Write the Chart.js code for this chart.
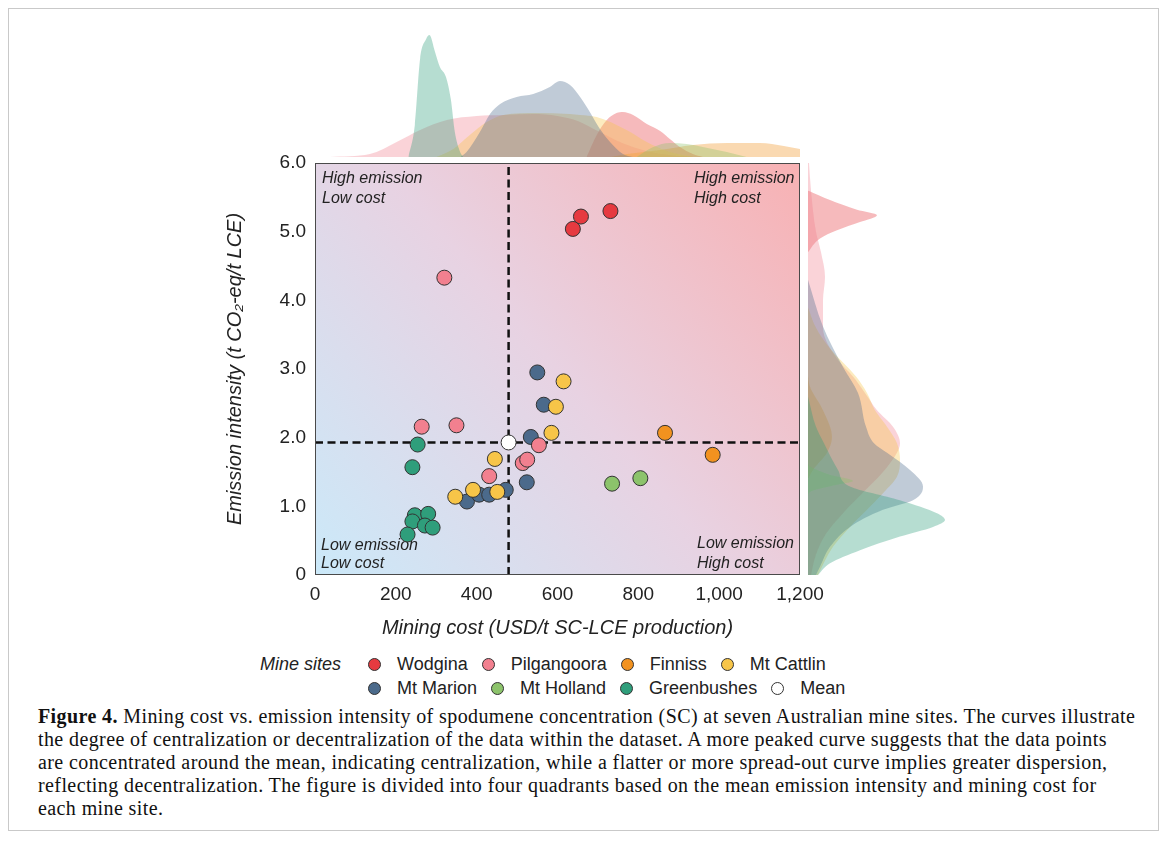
<!DOCTYPE html>
<html>
<head>
<meta charset="utf-8">
<script src="https://cdn.jsdelivr.net/npm/chart.js@4.4.1/dist/chart.umd.min.js"></script>
<style>
    html, body { margin: 0; padding: 0; background: #fff; }
    body { width: 1168px; height: 855px; position: relative; overflow: hidden; font-family: 'Liberation Sans', Arial, sans-serif; color: #222; }
    .frame { position: absolute; left: 8px; top: 8px; width: 1151px; height: 823px; border: 1px solid #c9c9c9; box-sizing: border-box; }
    #mainChart { position: absolute; left: 180px; top: 150px; }
    #topChart { position: absolute; left: 315px; top: 20px; }
    #rightChart { position: absolute; left: 808px; top: 163px; }
    .legend { position: absolute; left: 260px; top: 653px; font-size: 18px; line-height: 23px; white-space: nowrap; }
    .legend .title { position: absolute; left: 0; top: 0; font-style: italic; }
    .legend .row { position: absolute; left: 108px; display: flex; align-items: center; white-space: nowrap; }
    .legend .item { display: flex; align-items: center; margin-right: 14px; }
    .legend .dot { width: 13px; height: 13px; border-radius: 50%; border: 1px solid #333; margin-right: 16px; box-sizing: border-box; }
    .caption { position: absolute; left: 38px; top: 705px; font-family: 'Liberation Serif', 'DejaVu Serif', serif; font-size: 20px; letter-spacing: 0.4px; line-height: 23px; color: #111; white-space: nowrap; }
</style>
</head>
<body>
<div class="frame"></div>
<canvas id="topChart" width="485" height="137"></canvas>
<canvas id="rightChart" width="160" height="412"></canvas>
<canvas id="mainChart" width="660" height="500"></canvas>
<div class="legend" id="legend"><span class="title">Mine sites</span></div>
<div class="caption">
    <div><b>Figure 4.</b> Mining cost vs. emission intensity of spodumene concentration (SC) at seven Australian mine sites. The curves illustrate</div>
    <div>the degree of centralization or decentralization of the data within the dataset. A more peaked curve suggests that the data points</div>
    <div>are concentrated around the mean, indicating centralization, while a flatter or more spread-out curve implies greater dispersion,</div>
    <div>reflecting decentralization. The figure is divided into four quadrants based on the mean emission intensity and mining cost for</div>
    <div>each mine site.</div>
</div>
<script>
/* ---- data: [mining cost (USD/t SC-LCE), emission intensity (t CO2-eq/t LCE)] ---- */
const siteNames = ['Wodgina', 'Pilgangoora', 'Finniss', 'Mt Cattlin', 'Mt Marion', 'Mt Holland', 'Greenbushes'];
const siteColors = ['#e63a40', '#f2808f', '#f2921f', '#f7c548', '#4b6a8b', '#8cc36b', '#2f9e7b'];

const wodgina = [[638, 5.04], [658, 5.22], [731, 5.30]];
const pilgangoora = [[320, 4.33], [264, 2.16], [350, 2.18], [431, 1.44], [514, 1.63], [525, 1.68], [554, 1.89]];
const finniss = [[866, 2.07], [984, 1.75]];
const mtCattlin = [[615, 2.82], [596, 2.45], [585, 2.07], [445, 1.69], [347, 1.14], [391, 1.24], [451, 1.21]];
const mtMarion = [[550, 2.95], [566, 2.48], [534, 2.01], [524, 1.35], [376, 1.07], [406, 1.17], [431, 1.17], [472, 1.24]];
const mtHolland = [[735, 1.33], [805, 1.41]];
const greenbushes = [[254, 1.90], [241, 1.57], [247, 0.87], [241, 0.78], [280, 0.89], [272, 0.72], [291, 0.69], [229, 0.59]];
const meanCost = 479;
const meanEmission = 1.93;

const costTicks = [0, 200, 400, 600, 800, 1000, 1200];
const emissionTicks = [0, 1, 2, 3, 4, 5, 6];

/* marginal curves: [cost, density] (top) and [emission, density] (right) */
const topWodgina = [[672, 0], [697, 22], [722, 37], [746, 44], [762, 45], [787, 42], [821, 33], [854, 26], [878, 18], [903, 10], [935, 3], [960, 0]];
const topPilgangoora = [[37, 0], [136, 3], [202, 15], [260, 27], [326, 37], [400, 41], [466, 42], [540, 43], [600, 41], [650, 36], [700, 26], [760, 14], [820, 6], [880, 2], [940, 0]];
const topFinniss = [[730, 0], [771, 3], [854, 7], [935, 12], [1019, 14], [1101, 14], [1160, 11], [1200, 8], [1240, 5]];
const topMtCattlin = [[300, 0], [342, 8], [383, 22], [425, 35], [466, 42], [549, 44], [631, 43], [656, 42], [697, 40], [771, 27], [821, 15], [878, 5], [935, 0]];
const topMtMarion = [[360, 0], [375, 5], [408, 25], [433, 43], [458, 53], [499, 60], [540, 63], [581, 70], [606, 76], [631, 72], [656, 60], [680, 45], [705, 28], [730, 15], [762, 3], [787, 0]];
const topMtHolland = [[796, 0], [837, 10], [878, 14], [920, 13], [960, 10], [1019, 5], [1068, 0]];
const topGreenbushes = [[231, 0], [247, 32], [260, 98], [275, 118], [283, 122], [297, 105], [309, 90], [324, 80], [336, 58], [346, 25], [359, 5], [367, 0]];

const rightWodgina = [[4.70, 0], [4.90, 12], [5.02, 29], [5.14, 52], [5.24, 69], [5.32, 49], [5.46, 22], [5.60, 0]];
const rightPilgangoora = [[0, 3], [0.3, 8], [0.6, 18], [0.9, 35], [1.2, 55], [1.5, 75], [1.78, 89], [1.92, 92], [2.16, 85], [2.40, 69], [2.65, 57], [2.89, 45], [3.13, 30], [3.6, 15], [4.0, 15], [4.34, 17], [4.7, 13], [5.0, 8], [5.6, 3], [6.0, 1]];
const rightFinniss = [[1.40, 0], [1.53, 5], [1.78, 19], [2.01, 24], [2.40, 15], [2.74, 2], [2.90, 0]];
const rightMtCattlin = [[0, 10], [0.41, 25], [0.70, 42], [0.95, 59], [1.19, 75], [1.43, 89], [1.67, 92], [1.92, 89], [2.16, 79], [2.40, 67], [2.65, 59], [2.89, 48], [3.3, 22], [3.6, 8], [3.9, 0]];
const rightMtMarion = [[0, 8], [0.12, 12], [0.41, 22], [0.70, 42], [0.95, 75], [1.09, 105], [1.29, 115], [1.53, 102], [1.78, 79], [1.92, 66], [2.16, 58], [2.65, 50], [3.03, 35], [3.62, 15], [4.3, 0]];
const rightMtHolland = [[1.15, 0], [1.21, 2], [1.31, 28], [1.37, 45], [1.46, 22], [1.58, 2], [1.62, 0]];
const rightGreenbushes = [[0, 10], [0.17, 22], [0.36, 52], [0.56, 92], [0.70, 125], [0.80, 137], [0.90, 129], [1.09, 92], [1.29, 42], [1.53, 30], [1.92, 16], [2.16, 8], [2.6, 0]];

const sitePoints = [wodgina, pilgangoora, finniss, mtCattlin, mtMarion, mtHolland, greenbushes];
const topCurves = [topWodgina, topPilgangoora, topFinniss, topMtCattlin, topMtMarion, topMtHolland, topGreenbushes];
const rightCurves = [rightWodgina, rightPilgangoora, rightFinniss, rightMtCattlin, rightMtMarion, rightMtHolland, rightGreenbushes];

const FONT = "'Liberation Sans', Arial, sans-serif";

function alpha(hex, a) {
    const n = parseInt(hex.slice(1), 16);
    return `rgba(${n >> 16},${(n >> 8) & 255},${n & 255},${a})`;
}

/* ---- background gradient, quadrant labels and frame of the main plot ---- */
const quadrantPlugin = {
    id: 'quadrants',
    beforeDatasetsDraw(chart) {
        const { ctx, chartArea: a } = chart;
        const g = ctx.createLinearGradient(a.left, a.bottom, a.right, a.top);
        g.addColorStop(0, '#cbe9f9');
        g.addColorStop(0.5, '#e8d2e2');
        g.addColorStop(1, '#f8b1b3');
        ctx.save();
        ctx.fillStyle = g;
        ctx.fillRect(a.left, a.top, a.right - a.left, a.bottom - a.top);
        ctx.fillStyle = '#222';
        ctx.font = `italic 16px ${FONT}`;
        ctx.textBaseline = 'middle';
        ctx.fillText('High emission', a.left + 7, a.top + 16);
        ctx.fillText('Low cost', a.left + 7, a.top + 36);
        ctx.fillText('High emission', a.right - 106, a.top + 16);
        ctx.fillText('High cost', a.right - 106, a.top + 36);
        ctx.fillText('Low emission', a.left + 6, a.bottom - 29);
        ctx.fillText('Low cost', a.left + 6, a.bottom - 11);
        ctx.fillText('Low emission', a.right - 103, a.bottom - 31);
        ctx.fillText('High cost', a.right - 103, a.bottom - 11);
        ctx.restore();
    },
    afterDraw(chart) {
        const { ctx, chartArea: a } = chart;
        ctx.save();
        ctx.strokeStyle = '#4a4a4a';
        ctx.lineWidth = 1;
        ctx.strokeRect(a.left + 0.5, a.top + 0.5, a.right - a.left - 1, a.bottom - a.top - 1);
        ctx.restore();
    }
};

const scatterSets = siteNames.map((name, i) => ({
    label: name,
    data: sitePoints[i].map(p => ({ x: p[0], y: p[1] })),
    backgroundColor: siteColors[i],
    borderColor: '#333',
    borderWidth: 1,
    pointRadius: 7.5,
    order: 1
}));

const dashStyle = { showLine: true, borderColor: '#111', borderWidth: 2.5, borderDash: [8, 4.5], pointRadius: 0, order: 5 };

new Chart(document.getElementById('mainChart'), {
    type: 'scatter',
    data: {
        datasets: [
            { label: 'Mean', data: [{ x: meanCost, y: meanEmission }], backgroundColor: '#fff', borderColor: '#333', borderWidth: 1, pointRadius: 7.5, order: 0 },
            ...scatterSets,
            { label: 'mean cost', data: [{ x: meanCost, y: 0 }, { x: meanCost, y: 6 }], ...dashStyle },
            { label: 'mean emission', data: [{ x: 0, y: meanEmission }, { x: 1200, y: meanEmission }], ...dashStyle }
        ]
    },
    options: {
        responsive: false,
        animation: false,
        layout: { padding: { left: 0, top: 13, right: 40, bottom: 0 } },
        plugins: { legend: { display: false }, tooltip: { enabled: false } },
        scales: {
            x: {
                type: 'linear', min: 0, max: 1200,
                afterBuildTicks: s => { s.ticks = costTicks.map(v => ({ value: v })); },
                afterFit: s => { s.height = 75; s.paddingLeft = 0; s.paddingRight = 0; },
                grid: { display: false, drawTicks: false },
                border: { display: false },
                ticks: { padding: 8, color: '#222', font: { family: FONT, size: 19 }, callback: v => v.toLocaleString('en-US') },
                title: { display: true, text: 'Mining cost (USD/t SC-LCE production)', color: '#222', font: { family: FONT, size: 20, style: 'italic' }, padding: { top: 0, bottom: 10 } }
            },
            y: {
                type: 'linear', min: 0, max: 6,
                afterBuildTicks: s => { s.ticks = emissionTicks.map(v => ({ value: v })); },
                afterFit: s => { s.width = 135; s.paddingTop = 0; s.paddingBottom = 0; },
                grid: { display: false, drawTicks: false },
                border: { display: false },
                ticks: { padding: 9, color: '#222', font: { family: FONT, size: 19 }, callback: v => v === 0 ? '0' : v.toFixed(1) },
                title: { display: true, text: 'Emission intensity (t CO\u2082-eq/t LCE)', color: '#222', font: { family: FONT, size: 20, style: 'italic' }, padding: { top: 43, bottom: 0 } }
            }
        }
    },
    plugins: [quadrantPlugin]
});

/* ---- marginal density curves ---- */
function curveSets(curves, swap) {
    return siteNames.map((name, i) => ({
        label: name,
        data: curves[i].map(p => swap ? { x: p[1], y: p[0] } : { x: p[0], y: p[1] }),
        backgroundColor: alpha(siteColors[i], 0.35),
        borderWidth: 0,
        pointRadius: 0,
        fill: 'origin',
        cubicInterpolationMode: 'monotone',
        order: siteNames.length - i
    }));
}

const bare = { display: false, grid: { display: false } };

new Chart(document.getElementById('topChart'), {
    type: 'line',
    data: { datasets: curveSets(topCurves, false) },
    options: {
        responsive: false, animation: false,
        layout: { padding: 0 },
        plugins: { legend: { display: false }, tooltip: { enabled: false } },
        scales: { x: { ...bare, type: 'linear', min: 0, max: 1200 }, y: { ...bare, type: 'linear', min: 0, max: 137 } }
    }
});

new Chart(document.getElementById('rightChart'), {
    type: 'line',
    data: { datasets: curveSets(rightCurves, true) },
    options: {
        indexAxis: 'y',
        responsive: false, animation: false,
        layout: { padding: 0 },
        plugins: { legend: { display: false }, tooltip: { enabled: false } },
        scales: { x: { ...bare, type: 'linear', min: 0, max: 160 }, y: { ...bare, type: 'linear', min: 0, max: 6 } }
    }
});

/* ---- legend ---- */
const legend = document.getElementById('legend');
const rows = [[0, 1, 2, 3], [4, 5, 6, -1]];
rows.forEach((idx, r) => {
    const row = document.createElement('div');
    row.className = 'row';
    row.style.top = (r * 24) + 'px';
    row.innerHTML = idx.map(i => {
        const name = i < 0 ? 'Mean' : siteNames[i];
        const col = i < 0 ? '#fff' : siteColors[i];
        return `<span class="item"><span class="dot" style="background:${col}"></span>${name}</span>`;
    }).join('');
    legend.appendChild(row);
});
</script>
</body>
</html>
